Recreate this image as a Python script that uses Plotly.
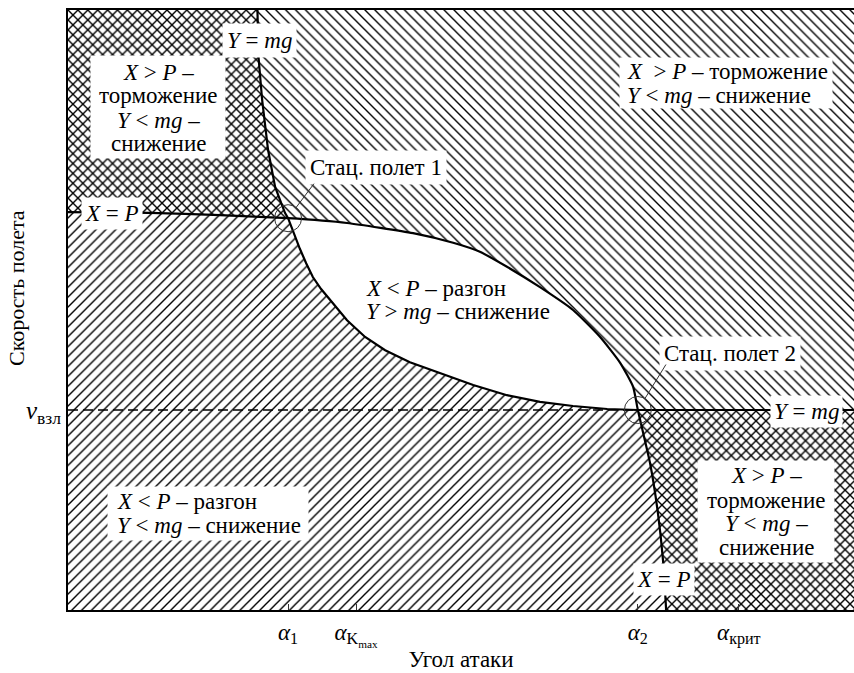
import plotly.graph_objects as go

# ---- data (x = angle of attack, y = flight speed, arbitrary units) ----
ymg_alpha = [4.82, 4.85, 4.94, 5.09, 5.27, 5.52, 5.60, 5.75, 5.90, 6.06, 6.23, 6.44, 6.67,
             7.10, 7.56, 8.07, 8.70, 9.47, 10.31, 11.17, 12.01, 12.85, 13.72, 14.50, 20.0]
ymg_speed = [100.0, 92.0, 85.0, 76.7, 70.5, 66.2, 65.3, 62.7, 60.2, 57.8, 55.5, 53.5, 51.7,
             48.3, 45.5, 43.3, 41.3, 39.5, 37.5, 35.8, 34.7, 34.0, 33.5, 33.33, 33.33]

xp_alpha = [0.0, 2.09, 3.87, 5.60, 7.10, 8.78, 9.80, 10.48, 11.17, 12.01, 12.85, 13.54,
            14.05, 14.38, 14.50, 14.81, 15.01, 15.14, 15.22]
xp_speed = [66.3, 66.2, 65.8, 65.3, 64.5, 62.8, 61.2, 59.7, 57.2, 53.8, 50.0, 45.5,
            41.2, 37.2, 33.33, 24.5, 16.2, 8.3, 0.0]

stat_alpha = [5.60, 14.50]
stat_speed = [65.3, 33.33]
stat_labels = ["Стац. полет 1", "Стац. полет 2"]

x_tick_vals = [5.60, 7.33, 14.50, 17.07]
x_tick_text = ["<i>α</i><sub>1</sub>", "<i>α</i><sub>K<sub>max</sub></sub>",
               "<i>α</i><sub>2</sub>", "<i>α</i><sub>крит</sub>"]
v_takeoff = 33.33
y_tick_text = ["<i>v</i><sub>взл</sub>"]

region_texts = {
    "brake_left": ["<i>X</i> &gt; <i>P</i> –", "торможение", "<i>Y</i> &lt; <i>mg</i> –", "снижение"],
    "brake_top": ["<i>X</i>  &gt; <i>P</i> – торможение", "<i>Y</i> &lt; <i>mg</i> – снижение"],
    "middle": ["<i>X</i> &lt; <i>P</i> – разгон", "<i>Y</i> &gt; <i>mg</i> – снижение"],
    "accel_low": ["<i>X</i> &lt; <i>P</i> – разгон", "<i>Y</i> &lt; <i>mg</i> – снижение"],
    "brake_right": ["<i>X</i> &gt; <i>P</i> –", "торможение", "<i>Y</i> &lt; <i>mg</i> –", "снижение"],
}

X_MIN, X_MAX, Y_MIN, Y_MAX = 0.0, 20.0, 0.0, 100.0

FONT = "'Liberation Serif', 'Times New Roman', Tinos, 'DejaVu Serif', serif"
INK = "#000"
FS = 23

# plot-area geometry (pixels) used only to place labels
L, T, W, H = 68, 10, 786, 600
def px(x):
    return (x - L) / W
def py(y):
    return (T + H - y) / H

fig = go.Figure()

hatch = dict(size=7, solidity=0.2, fgcolor="#000", fgopacity=1,
             bgcolor="rgba(0,0,0,0)", fillmode="overlay")

# Region X > P (above / right of the X = P curve): "\" hatching
reg_a_x = xp_alpha + [X_MAX, X_MAX, X_MIN]
reg_a_y = xp_speed + [Y_MIN, Y_MAX, Y_MAX]
fig.add_trace(go.Scatter(
    x=reg_a_x, y=reg_a_y, fill="toself", mode="lines", line=dict(width=0),
    fillcolor="rgba(0,0,0,0)", fillpattern=dict(shape="\\", **hatch),
    hoverinfo="skip", showlegend=False))

# Region Y < mg (below / left of the Y = mg curve): "/" hatching
reg_b_x = ymg_alpha + [X_MAX, X_MIN, X_MIN]
reg_b_y = ymg_speed + [Y_MIN, Y_MIN, Y_MAX]
fig.add_trace(go.Scatter(
    x=reg_b_x, y=reg_b_y, fill="toself", mode="lines", line=dict(width=0),
    fillcolor="rgba(0,0,0,0)", fillpattern=dict(shape="/", **hatch),
    hoverinfo="skip", showlegend=False))

# take-off speed dashed line
fig.add_trace(go.Scatter(
    x=[X_MIN, stat_alpha[1]], y=[v_takeoff, v_takeoff], mode="lines",
    line=dict(color=INK, width=1.3, dash="10px,5px"),
    hoverinfo="skip", showlegend=False))

# curves
fig.add_trace(go.Scatter(x=ymg_alpha, y=ymg_speed, mode="lines",
                         line=dict(color=INK, width=2.2),
                         hoverinfo="skip", showlegend=False))
fig.add_trace(go.Scatter(x=xp_alpha, y=xp_speed, mode="lines",
                         line=dict(color=INK, width=2.2, shape="spline", smoothing=0.5),
                         hoverinfo="skip", showlegend=False))

# stationary flight points (circles)
fig.add_trace(go.Scatter(x=stat_alpha, y=stat_speed, mode="markers",
                         marker=dict(symbol="circle-open", size=27, color="#333",
                                     line=dict(color="#333", width=1)),
                         hoverinfo="skip", showlegend=False))

ann = []

def bg_box(cx, cy, w, h):
    ann.append(dict(x=px(cx), y=py(cy), xref="paper", yref="paper", text="&nbsp;",
                    showarrow=False, width=w, height=h, bgcolor="white", borderpad=0,
                    xanchor="center", yanchor="middle", font=dict(size=4)))

def lines_block(x, ys, lines, anchor="center"):
    for yy, txt in zip(ys, lines):
        ann.append(dict(x=px(x), y=py(yy), xref="paper", yref="paper", text=txt,
                        showarrow=False, xanchor=anchor, yanchor="middle",
                        font=dict(family=FONT, size=FS, color=INK)))

def label(cx, cy, text, pad=4):
    ann.append(dict(x=px(cx), y=py(cy), xref="paper", yref="paper", text=text,
                    showarrow=False, bgcolor="white", borderpad=pad,
                    xanchor="center", yanchor="middle",
                    font=dict(family=FONT, size=FS, color=INK)))

# region descriptions
bg_box(158, 107, 134, 102)
lines_block(158, [72, 96, 120, 143], region_texts["brake_left"])
bg_box(726, 83, 212, 50)
lines_block(625, [71, 95], region_texts["brake_top"], anchor="left")
lines_block(364, [288, 311], region_texts["middle"], anchor="left")
bg_box(208, 513, 200, 53)
lines_block(115, [501, 525], region_texts["accel_low"], anchor="left")
bg_box(766, 511, 136, 101)
lines_block(766, [476, 500, 523, 547], region_texts["brake_right"])

# curve labels
label(259, 41, "<i>Y</i> = <i>mg</i>", pad=4)
label(112, 213, "<i>X</i> = <i>P</i>", pad=3)
label(806, 411, "<i>Y</i> = <i>mg</i>", pad=3)
label(664, 579, "<i>X</i> = <i>P</i>", pad=3)

# stationary flight labels
label(376, 167, stat_labels[0], pad=4)
label(730, 354, stat_labels[1], pad=4)

# callout leader lines to the stationary points
for (xa, ya), (dx, dy) in zip(zip(stat_alpha, stat_speed), [(27, -36), (29, -47)]):
    ann.append(dict(x=xa, y=ya, xref="x", yref="y", ax=dx, ay=dy, text="",
                    showarrow=True, arrowhead=0, arrowwidth=1, arrowcolor="#333",
                    standoff=13))

# y-axis title
ann.append(dict(x=px(16), y=py(288), xref="paper", yref="paper", text="Скорость полета",
                textangle=-90, showarrow=False, xanchor="center", yanchor="middle",
                font=dict(family=FONT, size=22, color=INK)))

fig.update_layout(
    width=854, height=673,
    margin=dict(l=L, r=854 - L - W, t=T, b=673 - T - H),
    paper_bgcolor="white", plot_bgcolor="white",
    font=dict(family=FONT, size=FS, color=INK),
    annotations=ann,
    xaxis=dict(range=[X_MIN, X_MAX], tickvals=x_tick_vals, ticktext=x_tick_text,
               ticks="inside", ticklen=6, tickcolor="#333", tickwidth=1,
               showgrid=False, zeroline=False, showline=True, linecolor=INK,
               linewidth=2, mirror=True,
               tickfont=dict(family=FONT, size=23),
               title=dict(text="Угол атаки", font=dict(family=FONT, size=23), standoff=2)),
    yaxis=dict(range=[Y_MIN, Y_MAX], tickvals=[v_takeoff], ticktext=y_tick_text,
               ticks="", showgrid=False, zeroline=False, showline=True,
               linecolor=INK, linewidth=2,
               tickfont=dict(family=FONT, size=25)),
)

fig.write_html("out.html", config={"displayModeBar": False},
               post_script="document.body.style.margin='0px';document.body.style.overflow='hidden';")
